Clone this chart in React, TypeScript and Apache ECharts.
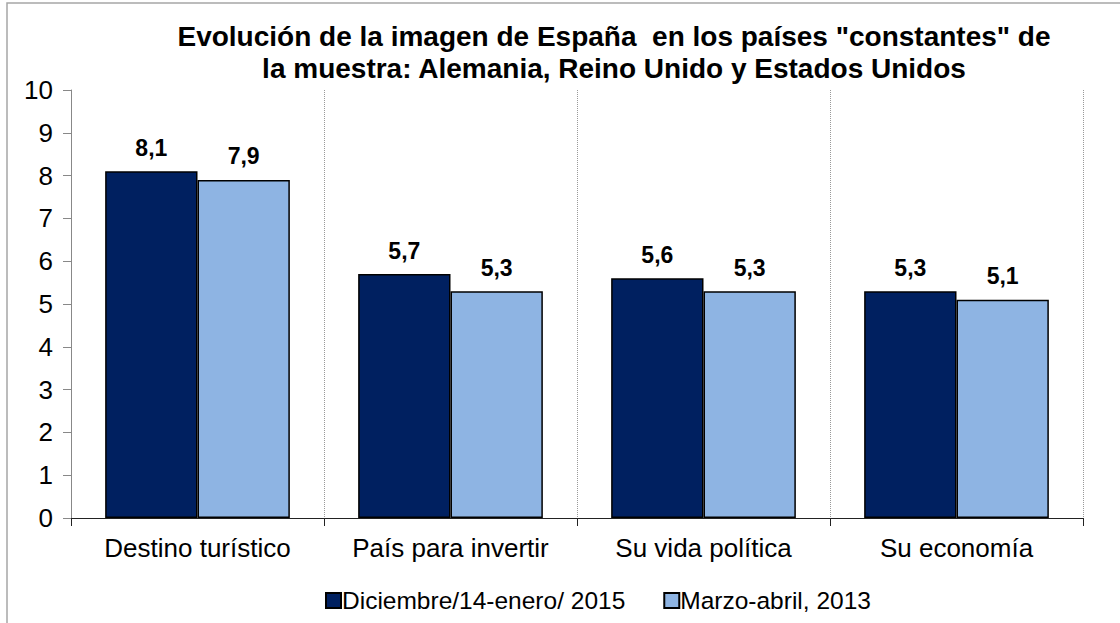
import React, { useEffect, useRef } from "react";
import * as echarts from "echarts";

const categories = ["Destino turístico", "País para invertir", "Su vida política", "Su economía"];
const seriesNames = ["Diciembre/14-enero/ 2015", "Marzo-abril, 2013"];
const values2015 = [8.1, 5.7, 5.6, 5.3];
const values2013 = [7.9, 5.3, 5.3, 5.1];
const titleLines = [
  'Evolución de la imagen de España  en los países "constantes" de',
  "la muestra: Alemania, Reino Unido y Estados Unidos",
];

const FONT = "'Liberation Sans', Arial, Helvetica, sans-serif";

export default function App() {
  const ref = useRef<HTMLDivElement>(null);
  useEffect(() => {
    document.body.style.margin = "0";
    const chart = echarts.init(ref.current!, null, { renderer: "svg" });
    const labelFmt = (p: any) => String(p.value).replace(".", ",");
    const dataLabel = {
      show: true,
      position: "top",
      distance: 12,
      fontSize: 23,
      fontWeight: "bold",
      color: "#000",
      formatter: labelFmt,
      fontFamily: FONT,
    };
    chart.setOption({
      animation: false,
      backgroundColor: "#fff",
      textStyle: { fontFamily: FONT },
      title: {
        text: titleLines.join("\n"),
        left: 609,
        top: 15,
        textAlign: "center",
        textStyle: { fontFamily: FONT, fontSize: 28, fontWeight: "bold", color: "#000", lineHeight: 32 },
      },
      graphic: [
        {
          type: "rect",
          shape: { x: 7, y: 3, width: 1200, height: 700 },
          style: { fill: "none", stroke: "#a6a6a6", lineWidth: 1.5 },
          silent: true,
          z: -1,
        },
      ],
      grid: { left: 71, right: 37, top: 90, bottom: 105, containLabel: false },
      xAxis: {
        type: "category",
        data: categories,
        axisLine: { lineStyle: { color: "#222", width: 1 } },
        axisTick: { show: true, length: 8, interval: 0, lineStyle: { color: "#222" } },
        splitLine: { show: true, interval: 0, lineStyle: { type: "dotted", color: "#999" } },
        axisLabel: { fontSize: 26, color: "#000", margin: 17, fontFamily: FONT, interval: 0 },
      },
      yAxis: {
        type: "value",
        min: 0,
        max: 10,
        interval: 1,
        axisLine: { show: true, lineStyle: { color: "#888" } },
        axisTick: { show: true, length: 8, lineStyle: { color: "#888" } },
        splitLine: { show: false },
        axisLabel: { fontSize: 26, color: "#000", margin: 18, fontFamily: FONT },
      },
      legend: {
        left: 320,
        top: 583,
        itemWidth: 15,
        itemHeight: 15,
        itemGap: 38,
        icon: "rect",
        textStyle: { fontSize: 24.5, color: "#000", fontFamily: FONT, padding: [0, 0, 0, -4] },
        data: seriesNames,
      },
      series: [
        {
          name: seriesNames[0],
          type: "bar",
          data: values2015,
          barGap: "0%",
          barCategoryGap: "27%",
          itemStyle: { color: "#002060", borderColor: "#000", borderWidth: 1.5 },
          label: dataLabel,
        },
        {
          name: seriesNames[1],
          type: "bar",
          data: values2013,
          barGap: "0%",
          barCategoryGap: "27%",
          itemStyle: { color: "#8EB4E3", borderColor: "#000", borderWidth: 1.5 },
          label: dataLabel,
        },
      ],
    });
    return () => chart.dispose();
  }, []);
  return <div ref={ref} style={{ position: "fixed", left: 0, top: 0, width: 1120, height: 623 }} />;
}
